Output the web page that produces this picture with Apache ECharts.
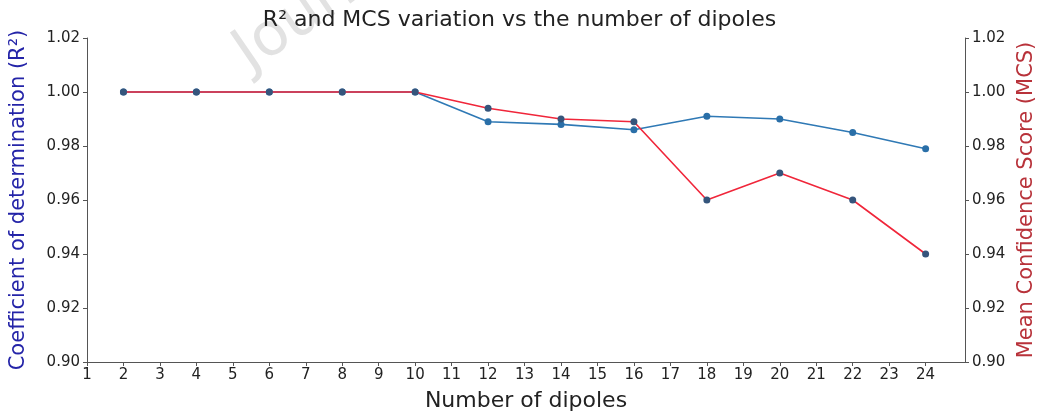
<!DOCTYPE html>
<html><head><meta charset="utf-8">
<script src="https://cdn.jsdelivr.net/npm/echarts@6/dist/echarts.min.js"></script>
<style>html,body{margin:0;padding:0;background:#fff}#c{width:1039px;height:414px}</style>
</head><body><div id="c"></div>
<script>
const dipoles = [2, 4, 6, 8, 10, 12, 14, 16, 18, 20, 22, 24];
const r2 = [1.000, 1.000, 1.000, 1.000, 1.000, 0.989, 0.988, 0.986, 0.991, 0.990, 0.985, 0.979];
const mcs = [1.000, 1.000, 1.000, 1.000, 1.000, 0.994, 0.990, 0.989, 0.960, 0.970, 0.960, 0.940];
const xTicks = [1, 2, 3, 4, 5, 6, 7, 8, 9, 10, 11, 12, 13, 14, 15, 16, 17, 18, 19, 20, 21, 22, 23, 24];
const yTicks = [0.90, 0.92, 0.94, 0.96, 0.98, 1.00, 1.02];

const chart = echarts.init(document.getElementById('c'));
const font = 'DejaVu Sans';
const yAxisBase = (pos, name, color) => ({
  type: 'value', position: pos, min: yTicks[0], max: yTicks[yTicks.length - 1], interval: 0.02,
  name: name, nameLocation: 'middle', nameGap: pos === 'left' ? 58 : 50,
  nameTextStyle: {color: color, fontSize: 21, fontFamily: font},
  axisLine: {show: true, lineStyle: {color: '#555', width: 1}},
  axisTick: {show: true, length: 4, lineStyle: {color: '#555'}},
  axisLabel: {color: '#222', fontSize: 15, fontFamily: font, margin: 7, formatter: v => v.toFixed(2)},
  splitLine: {show: false}
});
chart.setOption({
  animation: false,
  title: {text: 'R² and MCS variation vs the number of dipoles', left: 'center', top: 4,
    textStyle: {color: '#222', fontSize: 22, fontWeight: 'normal', fontFamily: font}},
  graphic: [{type: 'text', x: 258, y: 84, rotation: 0.6, z: -10,
    style: {text: 'Journal Pre-proof', fontSize: 60, fontFamily: font, fill: '#e2e2e2', textVerticalAlign: 'bottom'}}],
  grid: {left: 87, right: 74, top: 38, bottom: 52, outerBoundsMode: 'none', containLabel: false},
  xAxis: {type: 'value', min: 1, max: 25.08,
    name: 'Number of dipoles', nameLocation: 'middle', nameGap: 28,
    nameTextStyle: {color: '#222', fontSize: 22, fontFamily: font},
    axisLine: {show: true, lineStyle: {color: '#555'}},
    axisTick: {show: true, length: 4, lineStyle: {color: '#555'}, customValues: xTicks},
    axisLabel: {color: '#222', fontSize: 15, fontFamily: font, margin: 6, customValues: xTicks},
    splitLine: {show: false}},
  yAxis: [yAxisBase('left', 'Coefficient of determination (R²)', '#2424a8'),
          yAxisBase('right', 'Mean Confidence Score (MCS)', '#b8323a')],
  series: [
    {type: 'line', name: 'R2', yAxisIndex: 0, data: dipoles.map((d, i) => [d, r2[i]]),
      symbol: 'circle', symbolSize: 7, lineStyle: {color: '#2f79b5', width: 1.6},
      itemStyle: {color: '#2a6fa8'}, z: 2},
    {type: 'line', name: 'MCS', yAxisIndex: 1, data: dipoles.map((d, i) => [d, mcs[i]]),
      symbol: 'circle', symbolSize: 7, lineStyle: {color: '#f0263a', width: 1.6},
      itemStyle: {color: '#35557c'}, z: 3}
  ]
});
</script></body></html>
